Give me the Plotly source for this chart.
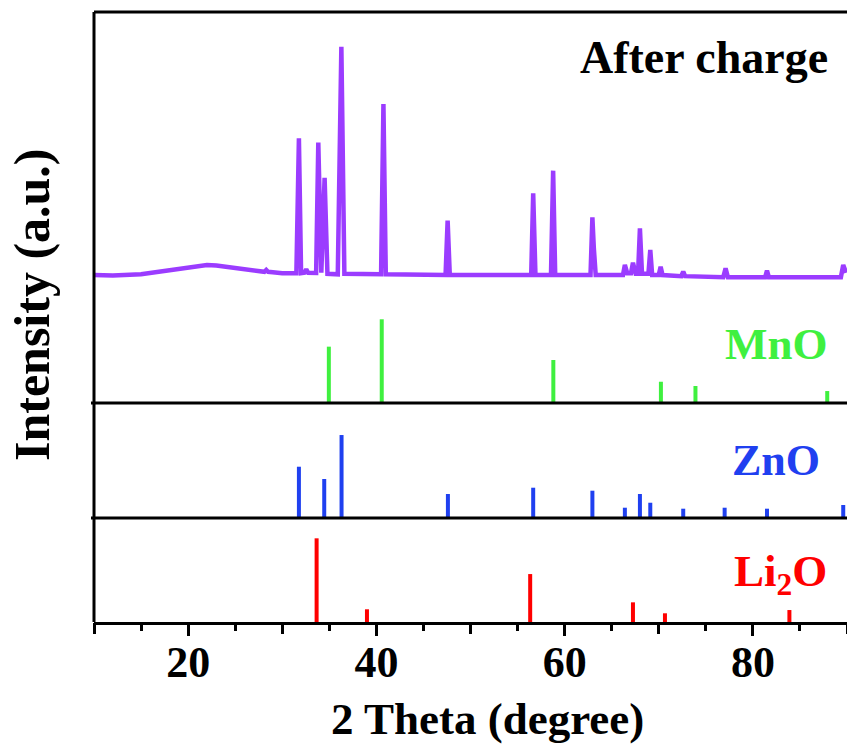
import plotly.graph_objects as go

# ---------------- data ----------------
# "After charge" XRD trace: 2-theta (deg) and relative intensity (strongest = 100)
af_x = [10.0, 12.0, 15.0, 17.0, 19.0, 21.0, 22.0, 23.0, 25.0, 27.0, 28.1, 28.3, 28.5, 29.0, 30.0,
        31.5, 31.77, 32.0, 32.35, 32.55, 32.75, 33.6, 33.83, 34.15, 34.5, 34.8, 35.9, 36.28, 36.6,
        40.5, 40.75, 41.0, 47.35, 47.57, 47.8, 56.45, 56.66, 56.9, 58.55, 58.78, 59.0,
        62.75, 62.95, 63.1, 63.3, 66.2, 66.4, 66.65, 67.05, 67.26, 67.55, 67.8, 68.0, 68.22,
        68.9, 69.1, 69.3, 70.0, 70.2, 70.4, 72.4, 72.6, 72.8, 76.85, 77.1, 77.35,
        81.3, 81.5, 81.7, 89.35, 89.6, 89.9]
af_y = [0.0, -0.2, 0.3, 1.5, 3.0, 4.0, 4.4, 4.2, 3.0, 1.8, 1.4, 2.2, 1.4, 1.2, 0.8,
        0.8, 59.9, 0.8, 1.0, 2.5, 1.0, 0.9, 58.0, 1.0, 42.6, 0.5, 0.3, 100.0, 0.5,
        0.3, 74.9, 0.3, 0.0, 23.8, 0.0, 0.0, 35.8, 0.0, 0.0, 45.7, 0.0,
        0.0, 25.3, 12.0, 0.0, 0.0, 4.4, 0.8, 0.8, 5.4, 0.5, 0.5, 20.4, 0.5,
        0.5, 11.0, 0.0, 0.0, 3.6, 0.0, -0.5, 1.5, -0.5, -1.0, 2.9, -1.0,
        -1.0, 1.9, -1.0, -1.0, 4.4, 1.0]

# Reference patterns (stick positions and relative intensities)
mno_x = [34.95, 40.57, 58.8, 70.23, 73.9, 87.9]
mno_i = [67.3, 100.0, 51.4, 25.4, 20.3, 14.3]

zno_x = [31.77, 34.46, 36.3, 47.6, 56.66, 62.95, 66.4, 68.0, 69.1, 72.6, 77.0, 81.5, 89.6]
zno_i = [61.8, 47.0, 100.0, 28.9, 36.5, 32.9, 12.4, 28.9, 18.4, 11.2, 12.4, 11.2, 15.7]

li2o_x = [33.65, 39.0, 56.34, 67.26, 70.66, 83.88]
li2o_i = [100.0, 15.2, 57.3, 23.5, 10.4, 14.3]

x_label_ticks = [20, 40, 60, 80]
x_plain_ticks = [10, 30, 50, 70, 90]

# ---------------- styling ----------------
FONT = "Liberation Serif"
PURPLE = "#9b3cff"
GREEN = "#3ff03f"
BLUE = "#1f40f0"
RED = "#ff0000"

# panel domains (paper fractions)
d_li = [0.0, 0.1705]
d_zn = [0.1705, 0.359]
d_mn = [0.359, 1.0]


def sticks(xs, hs):
    X, Y = [], []
    for x, h in zip(xs, hs):
        X += [x, x, None]
        Y += [0, h, None]
    return X, Y


fig = go.Figure()

X, Y = sticks(li2o_x, li2o_i)
fig.add_trace(go.Scatter(x=X, y=Y, mode="lines", line=dict(color=RED, width=4),
                         xaxis="x", yaxis="y", showlegend=False, hoverinfo="skip"))
X, Y = sticks(zno_x, zno_i)
fig.add_trace(go.Scatter(x=X, y=Y, mode="lines", line=dict(color=BLUE, width=4),
                         xaxis="x", yaxis="y2", showlegend=False, hoverinfo="skip"))
X, Y = sticks(mno_x, mno_i)
fig.add_trace(go.Scatter(x=X, y=Y, mode="lines", line=dict(color=GREEN, width=4),
                         xaxis="x", yaxis="y3", showlegend=False, hoverinfo="skip"))
fig.add_trace(go.Scatter(x=af_x, y=af_y, mode="lines", line=dict(color=PURPLE, width=4.5),
                         xaxis="x", yaxis="y4", showlegend=False, hoverinfo="skip"))
# carrier for the unlabeled long ticks axis
fig.add_trace(go.Scatter(x=[None], y=[None], mode="lines", xaxis="x2", yaxis="y",
                         showlegend=False, hoverinfo="skip"))

hidden = dict(visible=False, fixedrange=True)
fig.update_layout(
    width=847, height=747,
    margin=dict(l=94, r=0, t=12, b=125),
    paper_bgcolor="white", plot_bgcolor="white",
    font=dict(family=FONT, color="black"),
    xaxis=dict(range=[10, 90], anchor="y", showgrid=False, zeroline=False,
               showline=True, linecolor="black", linewidth=3,
               ticks="outside", ticklen=11, tickwidth=3, tickcolor="black",
               tickmode="array", tickvals=x_label_ticks, ticklabelstandoff=-12,
               minor=dict(dtick=5, tick0=0, ticks="outside", ticklen=6, tickwidth=3, tickcolor="black"),
               tickfont=dict(family=FONT, size=44, color="black", weight="bold")),
    xaxis2=dict(range=[10, 90], overlaying="x", anchor="y", side="bottom",
                showgrid=False, zeroline=False, showline=False,
                ticks="outside", ticklen=11, tickwidth=3, tickcolor="black",
                tickmode="array", tickvals=x_plain_ticks, showticklabels=False),
    yaxis=dict(domain=d_li, range=[0, 124.3], **hidden),
    yaxis2=dict(domain=d_zn, range=[0, 138.6], **hidden),
    yaxis3=dict(domain=d_mn, range=[0, 467], **hidden),
    yaxis4=dict(overlaying="y3", range=[-56.07, 115.2], **hidden),
)

# frame: left line, top line, panel separators
line_style = dict(color="black", width=3)
fig.add_shape(type="line", xref="paper", yref="paper", x0=0, x1=0, y0=0, y1=1, line=line_style)
fig.add_shape(type="line", xref="paper", yref="paper", x0=0, x1=1, y0=1, y1=1, line=line_style)
for yy in [d_zn[0], d_mn[0]]:
    fig.add_shape(type="line", xref="paper", yref="paper", x0=0, x1=1, y0=yy, y1=yy, line=line_style)
    fig.add_shape(type="line", xref="paper", yref="paper", x0=-0.004, x1=0, y0=yy, y1=yy, line=line_style)

# labels
def label(text, x, y, color, size):
    fig.add_annotation(text=text, xref="paper", yref="paper", x=x, y=y,
                       xanchor="center", yanchor="middle", showarrow=False,
                       font=dict(family=FONT, size=size, color=color, weight="bold"))

label("After charge", (704 - 94) / 753, (622 - 58) / 610, "black", 46)
label("MnO", (776 - 94) / 753, (622 - 344) / 610, GREEN, 45)
label("ZnO", (776 - 94) / 753, (622 - 461) / 610, BLUE, 44)
label("Li<sub>2</sub>O", (780 - 94) / 753, (622 - 574) / 610, RED, 45)

fig.add_annotation(text="2 Theta (degree)", xref="paper", yref="paper",
                   x=(487 - 94) / 753, y=(622 - 719) / 610, xanchor="center", yanchor="middle",
                   showarrow=False, font=dict(family=FONT, size=45, color="black", weight="bold"))
fig.add_annotation(text="Intensity (a.u.)", xref="paper", yref="paper", textangle=-90,
                   x=(32 - 94) / 753, y=(622 - 305) / 610, xanchor="center", yanchor="middle",
                   showarrow=False, font=dict(family=FONT, size=50, color="black", weight="bold"))

fig.write_html("out.html")
